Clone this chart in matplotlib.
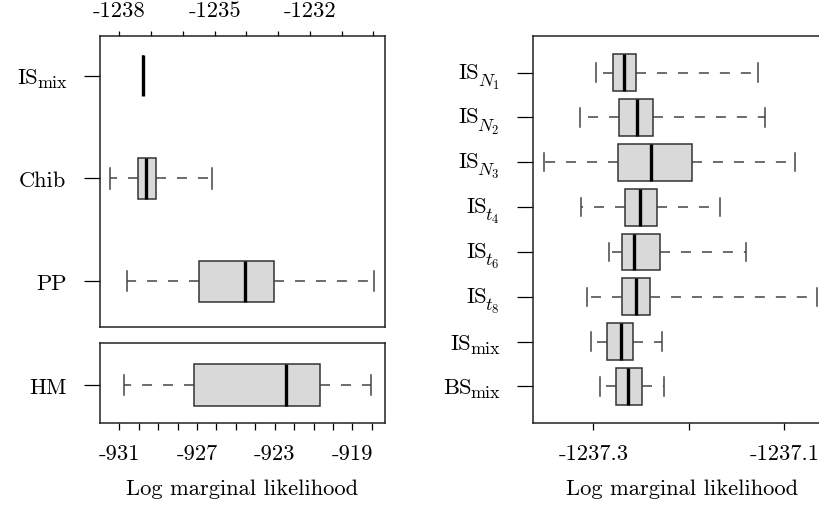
import matplotlib
matplotlib.use("Agg")
import matplotlib.pyplot as plt

plt.rcParams['font.family'] = 'cmr10'
plt.rcParams['mathtext.fontset'] = 'cm'
plt.rcParams['axes.unicode_minus'] = False
plt.rcParams['lines.scale_dashes'] = False

FS = 16.2

# left panel, upper section (top axis scale)
top_labels = [('IS', 'mix'), ('Chib', ''), ('PP', '')]
top_whislo = [-1237.26, -1238.29, -1237.77]
top_q1 = [-1237.26, -1237.42, -1235.48]
top_med = [-1237.26, -1237.17, -1234.05]
top_q3 = [-1237.26, -1236.85, -1233.14]
top_whishi = [-1237.26, -1235.07, -1229.97]

# left panel, lower section (bottom axis scale)
low_labels = [('HM', '')]
low_whislo = [-930.76]
low_q1 = [-927.17]
low_med = [-922.42]
low_q3 = [-920.65]
low_whishi = [-918.03]

# right panel
r_labels = [('IS', '$N_1$'), ('IS', '$N_2$'), ('IS', '$N_3$'), ('IS', '$t_4$'),
            ('IS', '$t_6$'), ('IS', '$t_8$'), ('IS', 'mix'), ('BS', 'mix')]
r_whislo = [-1237.2969, -1237.3144, -1237.3518, -1237.3126, -1237.2836, -1237.3067, -1237.3021, -1237.2934]
r_q1 = [-1237.2800, -1237.2731, -1237.2748, -1237.2668, -1237.2700, -1237.2700, -1237.2857, -1237.2769]
r_med = [-1237.2685, -1237.2549, -1237.2399, -1237.2514, -1237.2574, -1237.2553, -1237.2713, -1237.2637]
r_q3 = [-1237.2556, -1237.2375, -1237.1965, -1237.2336, -1237.2307, -1237.2406, -1237.2584, -1237.2496]
r_whishi = [-1237.1279, -1237.1202, -1237.0888, -1237.1675, -1237.1399, -1237.0654, -1237.2283, -1237.2259]

W, H = 819, 505
fig = plt.figure(figsize=(W / 100, H / 100), dpi=100)

def px_axes(x0, y0, x1, y1):
    return fig.add_axes([x0 / W, 1 - y1 / H, (x1 - x0) / W, (y1 - y0) / H])

def stats(lo, q1, med, q3, hi):
    return [dict(whislo=a, q1=b, med=c, q3=d, whishi=e, fliers=[])
            for a, b, c, d, e in zip(lo, q1, med, q3, hi)]

box_kw = dict(vert=False, patch_artist=True, showfliers=False,
              boxprops=dict(facecolor='#d9d9d9', edgecolor='#333333', linewidth=1.1),
              medianprops=dict(color='black', linewidth=2.4, solid_capstyle='butt'),
              whiskerprops=dict(color='#444444', linewidth=1.1, linestyle=(0, (7.2, 7.9))),
              capprops=dict(color='#444444', linewidth=1.1))

def style(ax):
    for s in ax.spines.values():
        s.set_linewidth(1.1)
        s.set_color('#222222')
    ax.tick_params(axis='y', length=11.5, width=0.9, labelleft=False)
    ax.tick_params(axis='x', length=4.7, width=0.9, pad=11, labelsize=FS)

def ylabels(ax, labels):
    # category labels drawn as text so the subscripts keep a readable size
    tr = ax.get_yaxis_transform()
    for pos, (main, sub) in enumerate(labels, start=1):
        if not sub:
            ax.annotate(main, xy=(0, pos), xycoords=tr, xytext=(-33.5, -8.5),
                        textcoords='offset pixels', ha='right', va='baseline', fontsize=FS)
            continue
        drop = 4 if sub == 'mix' else 8
        base = 8 if sub == 'mix' else 6
        t_sub = ax.annotate(sub, xy=(0, pos), xycoords=tr, xytext=(-33.5, -(base + drop)),
                            textcoords='offset pixels', ha='right', va='baseline',
                            fontsize=FS * 0.8)
        ax.annotate(main, xy=(0, pos), xycoords=(t_sub, ax.transData), xytext=(1.5, -base),
                    textcoords='offset pixels', ha='right', va='baseline', fontsize=FS)

# upper-left
ax1 = px_axes(100, 36, 385, 327)
ax1.bxp(stats(top_whislo, top_q1, top_med, top_q3, top_whishi),
        positions=range(1, len(top_labels) + 1), widths=0.4, **box_kw)
ax1.set_yticks(range(1, len(top_labels) + 1))
ax1.set_ylim(3.447, 0.612)
ax1.set_xlim(-1238.61, -1229.63)
ax1.xaxis.tick_top()
ax1.set_xticks(range(-1238, -1229))
ax1.set_xticklabels([str(v) if v in (-1238, -1235, -1232) else '' for v in range(-1238, -1229)])
style(ax1)
ax1.tick_params(axis='x', length=3.6, pad=7.5)
ylabels(ax1, top_labels)

# lower-left
ax2 = px_axes(100, 343, 385, 423)
ax2.bxp(stats(low_whislo, low_q1, low_med, low_q3, low_whishi),
        positions=[1], widths=0.4, **box_kw)
ax2.set_yticks([1])
ax2.set_ylim(1.369, 0.592)
ax2.set_xlim(-931.99, -917.32)
ax2.set_xticks(range(-931, -917))
ax2.set_xticklabels([str(v) if v in (-931, -927, -923, -919) else '' for v in range(-931, -917)])
style(ax2)
ax2.set_xlabel('Log marginal likelihood', fontsize=FS, labelpad=11)
ylabels(ax2, low_labels)

# right panel
ax3 = px_axes(533, 36, 832, 423)
n = len(r_labels)
ax3.bxp(stats(r_whislo, r_q1, r_med, r_q3, r_whishi),
        positions=range(1, n + 1), widths=0.82, **box_kw)
ax3.set_yticks(range(1, n + 1))
ax3.set_ylim(8.815, 0.183)
ax3.set_xlim(-1237.3634, -1237.050)
ax3.set_xticks([-1237.3, -1237.2, -1237.1])
ax3.set_xticklabels(['-1237.3', '', '-1237.1'])
style(ax3)
ax3.set_xlabel('Log marginal likelihood', fontsize=FS, labelpad=11)
ylabels(ax3, r_labels)

fig.savefig('out.png', dpi=100)
